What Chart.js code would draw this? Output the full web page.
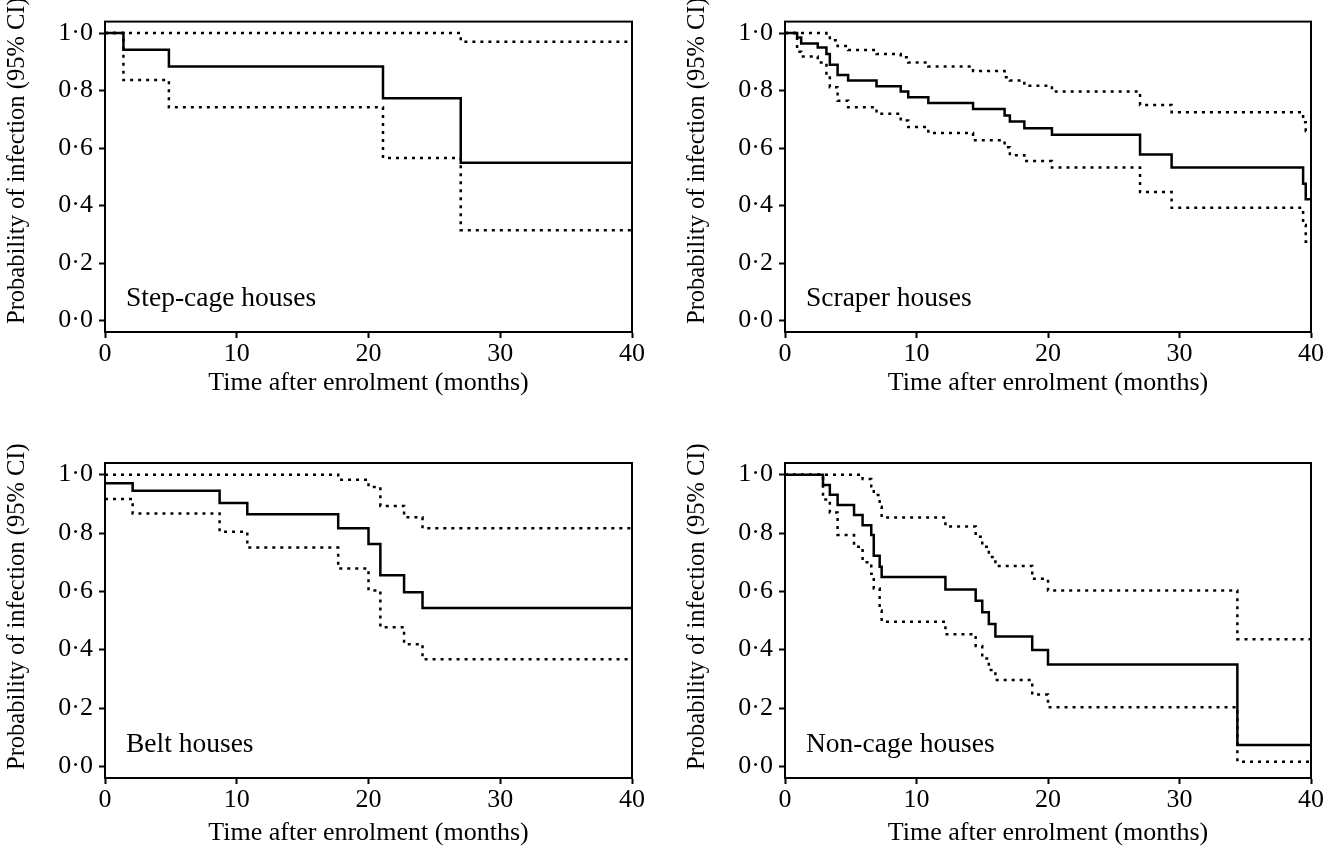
<!DOCTYPE html>
<html>
<head>
<meta charset="utf-8">
<script src="https://cdn.jsdelivr.net/npm/chart.js@4.4.1/dist/chart.umd.min.js"></script>
<style>
  body { margin: 0; background: #fff; width: 1325px; height: 860px; position: relative; overflow: hidden; }
  canvas { position: absolute; }
</style>
</head>
<body>
<canvas id="c1" width="680" height="430" style="left:0;top:0"></canvas>
<canvas id="c2" width="645" height="430" style="left:680px;top:0"></canvas>
<canvas id="c3" width="680" height="430" style="left:0;top:430px"></canvas>
<canvas id="c4" width="645" height="430" style="left:680px;top:430px"></canvas>
<script>
// tick values
const xTicks = [0, 10, 20, 30, 40];
const yTicks = [0, 0.2, 0.4, 0.6, 0.8, 1.0];
const xTitle = 'Time after enrolment (months)';
const yTitle = 'Probability of infection (95% CI)';

// step-cage houses
const stepTimes = [0, 1.4, 4.85, 21.1, 27.0, 40];
const stepEst   = [1.0, 0.942, 0.884, 0.773, 0.549, 0.549];
const stepHi    = [1.0, 1.0, 1.0, 1.0, 0.970, 0.970];
const stepLo    = [1.0, 0.837, 0.742, 0.565, 0.314, 0.314];

// scraper houses
const scrTimes = [0, 0.92, 1.23, 2.49, 3.15, 3.41, 4.0, 4.8, 6.96, 8.8, 9.37, 10.9, 14.3, 16.7, 17.1, 18.2, 20.3, 27.0, 29.4, 39.4, 39.6, 40];
const scrEst   = [1.0, 0.985, 0.964, 0.950, 0.927, 0.890, 0.854, 0.835, 0.815, 0.797, 0.777, 0.757, 0.736, 0.713, 0.692, 0.669, 0.646, 0.578, 0.532, 0.476, 0.422, 0.422];
const scrHi    = [1.0, 1.0, 1.0, 1.0, 0.99, 0.975, 0.955, 0.941, 0.927, 0.916, 0.898, 0.884, 0.868, 0.846, 0.835, 0.817, 0.797, 0.750, 0.725, 0.690, 0.659, 0.659];
const scrLo    = [1.0, 0.935, 0.919, 0.898, 0.852, 0.812, 0.765, 0.742, 0.719, 0.696, 0.673, 0.652, 0.627, 0.603, 0.575, 0.555, 0.532, 0.447, 0.392, 0.332, 0.274, 0.274];

// belt houses
const beltTimes = [0, 2.1, 8.7, 10.8, 17.7, 20.0, 20.9, 22.7, 24.1, 40];
const beltEst   = [0.971, 0.945, 0.903, 0.864, 0.816, 0.762, 0.655, 0.597, 0.543, 0.543];
const beltHi    = [1.0, 1.0, 1.0, 1.0, 0.983, 0.958, 0.893, 0.854, 0.816, 0.816];
const beltLo    = [0.917, 0.867, 0.804, 0.750, 0.678, 0.603, 0.477, 0.419, 0.367, 0.367];

// non-cage houses
const ncTimes = [0, 2.89, 3.41, 4.0, 5.25, 5.9, 6.56, 6.75, 7.2, 7.35, 12.2, 14.5, 15.0, 15.5, 16.0, 18.8, 20.0, 34.4, 40];
const ncEst   = [1.0, 0.965, 0.931, 0.896, 0.862, 0.827, 0.793, 0.722, 0.684, 0.649, 0.606, 0.568, 0.528, 0.488, 0.445, 0.399, 0.349, 0.073, 0.073];
const ncHi    = [1.0, 1.0, 1.0, 1.0, 1.0, 0.985, 0.96, 0.93, 0.89, 0.853, 0.822, 0.787, 0.753, 0.718, 0.687, 0.643, 0.603, 0.436, 0.436];
const ncLo    = [1.0, 0.915, 0.87, 0.793, 0.753, 0.70, 0.66, 0.61, 0.534, 0.496, 0.453, 0.413, 0.37, 0.33, 0.296, 0.246, 0.203, 0.016, 0.016];

const FONT = "'Liberation Serif', 'DejaVu Serif', serif";

const toPoints = (xs, ys) => xs.map((x, i) => ({ x: x, y: ys[i] }));

// frame, panel name, y title
const boxPlugin = {
  id: 'box',
  afterDraw(chart, args, opts) {
    const { ctx, chartArea: a } = chart;
    ctx.save();
    ctx.strokeStyle = '#000';
    ctx.lineWidth = 2;
    ctx.strokeRect(a.left, a.top, a.right - a.left, a.bottom - a.top);
    ctx.fillStyle = '#000';
    ctx.font = '27.5px ' + FONT;
    ctx.textBaseline = 'middle';
    ctx.fillText(opts.name, a.left + 21, chart.scales.y.getPixelForValue(0.075));
    // rotated y title
    ctx.font = '24.5px ' + FONT;
    ctx.translate(18, a.bottom - 8);
    ctx.rotate(-Math.PI / 2);
    ctx.textAlign = 'left';
    ctx.fillText(yTitle, 0, 0);
    ctx.restore();
  }
};

const makePanel = (id, name, times, est, hi, lo, padTop, padRight, xAxisH, titlePad) => {
  const line = (vals, dashed) => ({
    data: toPoints(times, vals),
    stepped: 'before',
    borderColor: '#000',
    borderWidth: 2.5,
    borderDash: dashed ? [3, 5] : [],
    pointRadius: 0,
    fill: false
  });
  new Chart(document.getElementById(id), {
    type: 'line',
    data: { datasets: [line(est, false), line(hi, true), line(lo, true)] },
    options: {
      responsive: false,
      animation: false,
      layout: { padding: { top: padTop, right: padRight, left: 0, bottom: 0 } },
      plugins: { legend: { display: false }, tooltip: { enabled: false }, box: { name: name } },
      scales: {
        x: {
          type: 'linear', min: 0, max: 40,
          afterBuildTicks: s => { s.ticks = xTicks.map(v => ({ value: v })); },
          afterFit: s => { s.height = xAxisH; },
          grid: { drawOnChartArea: false, drawTicks: true, tickLength: 6, tickWidth: 2, tickColor: '#000' },
          border: { display: true, color: '#000', width: 2 },
          ticks: { color: '#000', font: { family: FONT, size: 26 }, padding: 1, maxRotation: 0 },
          title: { display: true, text: xTitle, color: '#000',
                   font: { family: FONT, size: 26 }, padding: { top: 0, bottom: titlePad } }
        },
        y: {
          type: 'linear', min: -0.04, max: 1.04,
          afterBuildTicks: s => { s.ticks = yTicks.map(v => ({ value: v })); },
          afterFit: s => { s.width = 105; },
          grid: { drawOnChartArea: false, drawTicks: true, tickLength: 6, tickWidth: 2, tickColor: '#000' },
          border: { display: true, color: '#000', width: 2 },
          ticks: { color: '#000', font: { family: FONT, size: 26 }, padding: 6,
                   callback: v => v.toFixed(1).replace('.', '\u00b7') }
        }
      }
    },
    plugins: [boxPlugin]
  });
};

makePanel('c1', 'Step-cage houses', stepTimes, stepEst, stepHi, stepLo, 19, 48, 98, 31);
makePanel('c2', 'Scraper houses', scrTimes, scrEst, scrHi, scrLo, 19, 14, 98, 31);
makePanel('c3', 'Belt houses', beltTimes, beltEst, beltHi, beltLo, 33, 48, 82, 11);
makePanel('c4', 'Non-cage houses', ncTimes, ncEst, ncHi, ncLo, 33, 14, 82, 11);
</script>
</body>
</html>
